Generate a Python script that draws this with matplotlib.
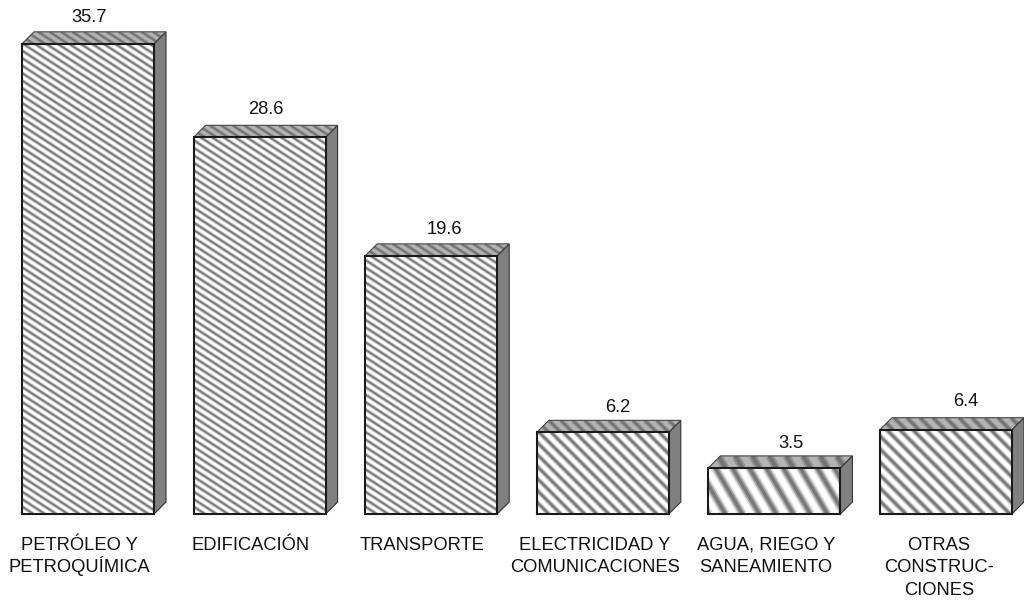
import matplotlib
matplotlib.use("Agg")
import matplotlib.pyplot as plt
from matplotlib.patches import Polygon, Rectangle

plt.rcParams['font.family'] = ['Liberation Sans', 'DejaVu Sans']

categories = [["PETRÓLEO Y", "PETROQUÍMICA"], ["EDIFICACIÓN"], ["TRANSPORTE"],
              ["ELECTRICIDAD Y", "COMUNICACIONES"], ["AGUA, RIEGO Y", "SANEAMIENTO"],
              ["OTRAS", "CONSTRUC-", "CIONES"]]
values = [35.7, 28.6, 19.6, 6.2, 3.5, 6.4]
value_labels = ["35.7", "28.6", "19.6", "6.2", "3.5", "6.4"]
h_periods = [11.5, 11.5, 11.5, 12.0, 17.0, 13.0]
slopes = [0.65, 0.65, 0.65, 1.0, 1.7, 1.0]
value_x = [89.5, 266, 444, 618, 791, 966]
value_y = [17, 110, 229, 407, 443, 401]
label_x = [79, 251, 422, 595, 766, 939]
W, H = 1024, 602
PX_X = 171.6
PX_Y = 13.17
X0 = 88
Y0 = 514
BAR_W = 132
DEPTH = 12
BASE_LINE = 550
LINE_STEP = 22.3

fig = plt.figure(figsize=(W / 100, H / 100), dpi=100)
ax = fig.add_axes([0, 0, 1, 1])
ax.set_xlim(-X0 / PX_X, (W - X0) / PX_X)
ax.set_ylim(-(H - Y0) / PX_Y, Y0 / PX_Y)
ax.axis("off")

dx = DEPTH / PX_X
dy = DEPTH / PX_Y
bw = BAR_W / PX_X


def to_x(px):
    return (px - X0) / PX_X


def to_y(py):
    return (Y0 - py) / PX_Y


def stripes(patch, x0, x1, y0, y1, hp, slope, z, layers):
    """Diagonal down-right stripes with soft edges, clipped to the patch."""
    height = (y1 - y0) * PX_Y
    width = (x1 - x0) * PX_X
    run = height / slope
    perp = hp * slope / (1 + slope ** 2) ** 0.5
    n = int((width + run) / hp) + 3
    for k in range(n):
        start = x0 + (k * hp - run - hp) / PX_X
        for j, (color, frac) in enumerate(layers):
            line, = ax.plot([start, start + run / PX_X], [y1, y0], color=color,
                            lw=perp * frac * 0.72, solid_capstyle="butt", zorder=z + j * 0.1)
            line.set_clip_path(patch)


front_layers = [("#dcdcdc", 0.62), ("#a6a6a6", 0.42), ("#787878", 0.22)]
top_layers = [("#949494", 0.55), ("#747474", 0.28)]

for i, (v, hp, sl, lab) in enumerate(zip(values, h_periods, slopes, value_labels)):
    x0 = i - bw / 2
    x1 = i + bw / 2
    front = ax.bar(i, v, width=bw, facecolor="white", edgecolor="none", zorder=2)[0]
    stripes(front, x0, x1, 0, v, hp, sl, 3, front_layers)
    ax.add_patch(Rectangle((x0, 0), bw, v, fill=False, edgecolor="#1a1a1a", lw=1.5, zorder=6))

    top = Polygon([(x0, v), (x0 + dx, v + dy), (x1 + dx, v + dy), (x1, v)],
                  closed=True, facecolor="#b4b4b4", edgecolor="none", zorder=2)
    ax.add_patch(top)
    stripes(top, x0, x1 + dx, v, v + dy, hp, sl, 3, top_layers)
    ax.add_patch(Polygon(top.get_xy(), closed=True, fill=False, edgecolor="#444444", lw=0.8, zorder=5))

    side = Polygon([(x1, 0), (x1 + dx, dy), (x1 + dx, v + dy), (x1, v)],
                   closed=True, facecolor="#808080", edgecolor="#333333", lw=0.8, zorder=4)
    ax.add_patch(side)

    ax.text(to_x(value_x[i]), to_y(value_y[i]), lab, ha="center", va="center",
            fontsize=13.2, color="#111111", zorder=7)
    for k, text in enumerate(categories[i]):
        ax.text(to_x(label_x[i]), to_y(BASE_LINE + k * LINE_STEP), text, ha="center",
                va="baseline", fontsize=13.2, color="#111111")

fig.savefig("out.png", dpi=100, facecolor="white")
